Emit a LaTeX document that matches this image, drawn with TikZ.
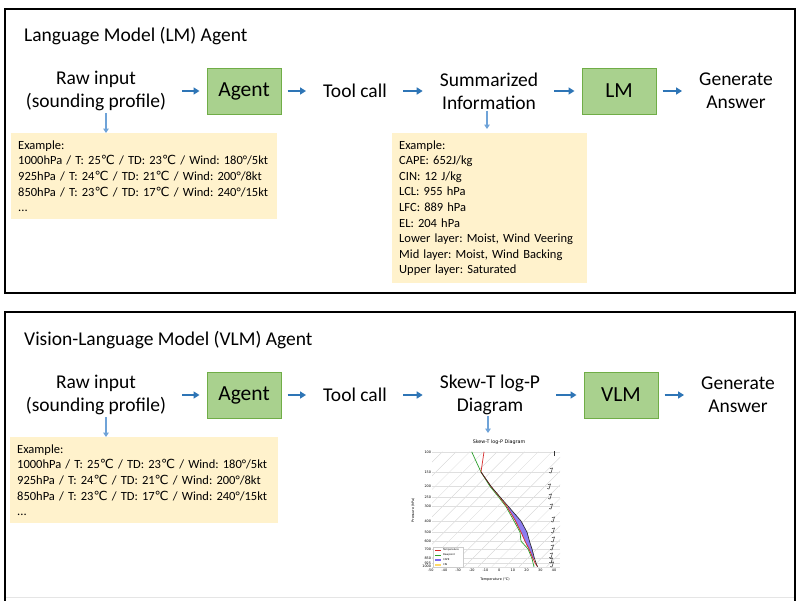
\documentclass[tikz,border=0pt]{standalone}
\usepackage{fontspec}
\setmainfont{Carlito}
\newfontfamily\plotfont{DejaVu Sans}
\usetikzlibrary{arrows.meta}
\definecolor{boxgreen}{HTML}{70AD47}
\definecolor{fillgreen}{HTML}{A9D18E}
\definecolor{notetan}{HTML}{FFF2CC}
\definecolor{arrowblue}{HTML}{2E75B6}
\definecolor{downblue}{HTML}{6FA3D8}
\definecolor{capeblue}{HTML}{7B68EE}
\definecolor{tempred}{HTML}{D62728}
\definecolor{dewgreen}{HTML}{2CA02C}
\newcommand{\degc}{\iffontchar\font"2103 ℃\else{\plotfont ℃}\fi}
\frenchspacing
\tikzset{
  frame/.style={draw=black, line width=2.5pt},
  paneltitle/.style={anchor=base west, inner sep=0pt, font=\fontsize{19.5}{23}\selectfont},
  flowtext/.style={align=center, inner xsep=10pt, inner ysep=0pt, font=\fontsize{19.5}{23}\selectfont},
  modelbox/.style={draw=boxgreen, fill=fillgreen, line width=1pt, minimum width=74pt,
    minimum height=46pt, font=\fontsize{21.5}{24}\selectfont},
  notebox/.style={fill=notetan, anchor=north west, align=left, inner xsep=7pt,
    font=\fontsize{12.5}{15.6}\selectfont},
  flowarrow/.style={-{Triangle[length=6pt,width=7pt]}, line width=2.2pt, arrowblue,
    shorten <=6pt, shorten >=7pt},
  downarrow/.style={-{Triangle[length=4.5pt,width=5.5pt]}, line width=1.6pt, downblue},
  isotherm/.style={draw=gray!35, line width=0.3pt},
  pgrid/.style={draw=gray!25, line width=0.3pt},
  ticklab/.style={inner sep=0.8pt, font=\plotfont\fontsize{3.4}{4}\selectfont},
  barb/.style={draw=black!80, line width=0.5pt}
}
\begin{document}
\begin{tikzpicture}[x=1pt, y=-1pt]
  \useasboundingbox[fill=white] (0,0) rectangle (800,600);

  % language model agent
  \draw[frame] (5,9) rectangle (795,293);
  \node[paneltitle] (lmtitle) at (24,41.5) {Language Model (LM) Agent};
  \node[flowtext] (rawlm) at (96,91) {Raw input\\(sounding profile)};
  \node[modelbox] (agentlm) at (244,91) {Agent};
  \node[flowtext] (toollm) at (355,91) {Tool call};
  \node[flowtext] (summ) at (489,91) {Summarized\\Information};
  \node[modelbox] (lm) at (619,91) {LM};
  \node[flowtext] (genlm) at (736,91) {Generate\\Answer};
  \draw[flowarrow] (rawlm) -- (agentlm);
  \draw[flowarrow] (agentlm) -- (toollm);
  \draw[flowarrow] (toollm) -- (summ);
  \draw[flowarrow] (summ) -- (lm);
  \draw[flowarrow] (lm) -- (genlm);
  \node[notebox, text width=252pt, minimum height=86pt] (exlm) at (11,133)
    {Example:\\
     1000hPa / T: 25\degc{} / TD: 23\degc{} / Wind: 180°/5kt\\
     925hPa / T: 24\degc{} / TD: 21\degc{} / Wind: 200°/8kt\\
     850hPa / T: 23\degc{} / TD: 17\degc{} / Wind: 240°/15kt\\
     ...};
  \node[notebox, text width=181pt, minimum height=150pt] (exsumm) at (392,133)
    {Example:\\
     CAPE: 652J/kg\\
     CIN: 12 J/kg\\
     LCL: 955 hPa\\
     LFC: 889 hPa\\
     EL: 204 hPa\\
     Lower layer: Moist, Wind Veering\\
     Mid layer: Moist, Wind Backing\\
     Upper layer: Saturated};
  \draw[downarrow, shorten <=2pt] ([xshift=10pt]rawlm.south) -- ([xshift=10pt]rawlm.south |- exlm.north);
  \draw[downarrow, shorten <=1pt, shorten >=4pt] ([xshift=-2pt]summ.south) -- ([xshift=-2pt]summ.south |- exsumm.north);

  % vision-language model agent
  \begin{scope}
    \clip (0,0) rectangle (800,600);
    \draw[frame] (5,606) |- (795,312) -- (795,606);
  \end{scope}
  \draw[gray!20, line width=1pt] (6,597) -- (794,597);
  \node[paneltitle] (vlmtitle) at (24,345.5) {Vision-Language Model (VLM) Agent};
  \node[flowtext] (rawvlm) at (96,395) {Raw input\\(sounding profile)};
  \node[modelbox] (agentvlm) at (244,395) {Agent};
  \node[flowtext] (toolvlm) at (355,395) {Tool call};
  \node[flowtext] (skewt) at (490,395) {Skew-T log-P\\Diagram};
  \node[modelbox] (vlm) at (621,395) {VLM};
  \node[flowtext] (genvlm) at (738,395) {Generate\\Answer};
  \draw[flowarrow] (rawvlm) -- (agentvlm);
  \draw[flowarrow] (agentvlm) -- (toolvlm);
  \draw[flowarrow] (toolvlm) -- (skewt);
  \draw[flowarrow] (skewt) -- (vlm);
  \draw[flowarrow] (vlm) -- (genvlm);
  \node[notebox, text width=254pt, minimum height=86pt] (exvlm) at (10,437)
    {Example:\\
     1000hPa / T: 25\degc{} / TD: 23\degc{} / Wind: 180°/5kt\\
     925hPa / T: 24\degc{} / TD: 21\degc{} / Wind: 200°/8kt\\
     850hPa / T: 23\degc{} / TD: 17\degc{} / Wind: 240°/15kt\\
     ...};
  \coordinate (plottop) at (488,433);
  \draw[downarrow, shorten <=2pt] ([xshift=10pt]rawvlm.south) -- ([xshift=10pt]rawvlm.south |- exvlm.north);
  \draw[downarrow, shorten <=1pt] ([xshift=-2pt]skewt.south) -- (plottop);

  % skew-T log-P plot
  \node[ticklab, font=\plotfont\fontsize{4.8}{5.5}\selectfont] (plottitle) at (499,442) {Skew-T log-P Diagram};
  \begin{scope}
    \clip (432,451.8) rectangle (560,566.7);
    \foreach \xx in {300,313.7,...,700}
      \draw[isotherm] (\xx,566.7) -- ++(115,-115);
  \end{scope}
  \foreach \p in {1000,925,850,700,600,500,400,300,250,200,150,100} {
    \pgfmathsetmacro\yy{566.7-49.9*ln(1000/\p)}
    \draw[pgrid] (432,\yy) -- (560,\yy);
    \node[ticklab, anchor=east] (plab\p) at (432,\yy) {\p};
  }
  \foreach \t in {-50,-40,...,40} {
    \pgfmathsetmacro\xx{430.7+1.37*(\t+50)}
    \node[ticklab, anchor=north] (tlab\t) at (\xx,568) {\t};
  }
  \node[ticklab, rotate=90] (plabel) at (413,510) {Pressure (hPa)};
  \node[ticklab] (tlabel) at (495,580) {Temperature (°C)};
  \fill[capeblue, opacity=0.85] (534.5,558.6) -- (532,548.9) -- (529.5,541.2) -- (527,532.1)
    -- (521,521) -- (508.5,506.6) -- (507,506.6) -- (515.5,521) -- (521,532.1)
    -- (525,541.2) -- (529,548.9) -- (533,558.6) -- cycle;
  \draw[dewgreen, line width=0.7pt] (471.7,451.8) -- (481,472) -- (490,486.4) -- (499,497.5)
    -- (506,506.6) -- (514,521) -- (520,532.1) -- (521,541.2) -- (528,548.9)
    -- (532,558.6) -- (533,562.8) -- (534,566.7);
  \draw[tempred, line width=0.7pt] (484,451.8) -- (481,472) -- (491,486.4) -- (500,497.5)
    -- (507,506.6) -- (515.5,521) -- (521,532.1) -- (525,541.2) -- (529,548.9)
    -- (533,558.6) -- (535,562.8) -- (537.5,566.7);
  \draw[black!85, line width=0.6pt] (481,472) -- (491,486.4) -- (500.5,497.5) -- (508.5,506.6)
    -- (521,521) -- (527,532.1) -- (529.5,541.2) -- (532,548.9) -- (534.5,558.6)
    -- (536,562.8) -- (537.5,566.7);
  \draw[barb] (554,456) -- ++(0,-5);
  \foreach \bx/\by in {551/473,549/489,550/499,551/509,553/522,553/533,553/542,552/550,551/558,551/563,552/567}
    \draw[barb] (\bx,\by) -- ++(1.5,-5) -- ++(-2.6,0.6) (\bx,\by) -- ++(-1.8,-0.4);
  \draw[gray!40, line width=0.3pt, fill=white] (433,547) rectangle (463,567.5);
  \draw[tempred, line width=0.6pt] (435,550) -- (441,550);
  \draw[dewgreen, line width=0.6pt] (435,555) -- (441,555);
  \fill[capeblue] (435,558.8) rectangle (441,561.2);
  \fill[orange!50!yellow!60] (435,563.8) rectangle (441,566.2);
  \node[ticklab, anchor=west, font=\plotfont\fontsize{2.5}{3}\selectfont] (legtemp) at (442,550) {Temperature};
  \node[ticklab, anchor=west, font=\plotfont\fontsize{2.5}{3}\selectfont] (legdew) at (442,555) {Dewpoint};
  \node[ticklab, anchor=west, font=\plotfont\fontsize{2.5}{3}\selectfont] (legcape) at (442,560) {CAPE};
  \node[ticklab, anchor=west, font=\plotfont\fontsize{2.5}{3}\selectfont] (legcin) at (442,565) {CIN};
\end{tikzpicture}
\end{document}
